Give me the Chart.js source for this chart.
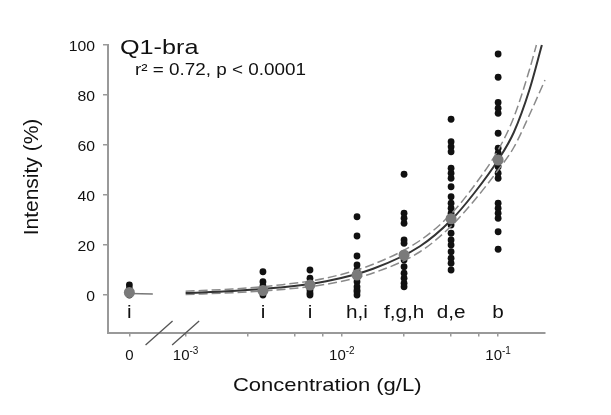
<!DOCTYPE html>
<html>
<head>
<meta charset="utf-8">
<script src="https://cdn.jsdelivr.net/npm/chart.js@4.4.1/dist/chart.umd.min.js"></script>
<style>
  html, body { margin: 0; padding: 0; background: #fff; }
  #wrap { width: 611px; height: 415px; }
</style>
</head>
<body>
<div id="wrap"><canvas id="chart"></canvas></div>
<script>
// groups: concentration (g/L), 0 sits left of the axis break
const concentrations = [0, 0.003125, 0.00625, 0.0125, 0.025, 0.05, 0.1]
const groupLetters = ['i', 'i', 'i', 'h,i', 'f,g,h', 'd,e', 'b']
const groupMeans = [1, 1.8, 4, 8, 16, 30.5, 54]
const dotsByGroup = [
  [4, 2.5, 1, 0],
  [9.3, 5.3, 3.6, 2, 1, 0],
  [10, 6.7, 5, 2, 0.8, 0],
  [31.3, 23.6, 15.6, 12, 10, 7, 5.3, 3.3, 2, 1.3, 0],
  [48.3, 32.7, 30.7, 28.7, 22, 20.7, 14, 11.3, 8.7, 6.7, 4.7, 3.3],
  [70.3, 61.3, 59.3, 57.3, 50.7, 48.7, 46.7, 43.3, 39.3, 36.7, 34.7, 32.7, 28, 24.7, 22, 20, 17.3, 14.7, 12.7, 10],
  [96.4, 87.1, 77, 74.7, 72.7, 64.7, 58.7, 56.7, 51.3, 48.7, 46.7, 36.7, 34.7, 32.7, 30.7, 25.3, 18.3]
]

const fitX = [-3.0, -2.7, -2.4, -2.1, -1.8, -1.5, -1.3, -1.15, -1.0, -0.9, -0.8, -0.72]
const fitY = [0.8, 1.6, 3.0, 5.5, 10.5, 19.5, 30, 41, 54, 65, 82, 100]
const bandUpX = [-3.0, -2.7, -2.4, -2.1, -1.8, -1.5, -1.3, -1.15, -1.0, -0.9, -0.8, -0.755]
const bandUpY = [1.5, 2.4, 4.0, 6.8, 12.3, 21.8, 32.5, 44, 58, 71, 90, 100]
const bandLoX = [-3.0, -2.7, -2.4, -2.1, -1.8, -1.5, -1.3, -1.15, -1.0, -0.9, -0.8, -0.7]
const bandLoY = [0.2, 0.9, 2.1, 4.3, 8.8, 17.3, 27.6, 38, 50, 59, 72, 86]
// little line at the zero group
const zeroLineX = [-3.36, -3.21]
const zeroLineY = [0.6, 0.4]

// axes
const ZERO_AT = -3.36          // where "0" is put on the log axis
const X_MIN = -3.5, X_MAX = -0.7
const Y_MIN = -15, Y_MAX = 100
const yTicks = [0, 20, 40, 60, 80, 100]
const xMajorTicks = [0, 0.001, 0.01, 0.1]
const xMajorLabels = ['0', '10', '10', '10']
const xMajorExps = ['', '-3', '-2', '-1']
const xMinorTicks = [0.0025, 0.005, 0.0075, 0.025, 0.05, 0.075]
const breakAt = [-3.17, -3.0]
const letterY = -9.3

const toX = c => c === 0 ? ZERO_AT : Math.log10(c)
const FONT = '"Liberation Sans", Arial, sans-serif'

const dots = []
dotsByGroup.forEach((vals, i) => vals.forEach(v => dots.push({ x: toX(concentrations[i]), y: v })))
const means = groupMeans.map((v, i) => ({ x: toX(concentrations[i]), y: v }))
const pairs = (xs, ys) => xs.map((x, i) => ({ x, y: ys[i] }))

function text(ctx, str, x, y, size, sx, align) {
  ctx.save()
  ctx.translate(x, y)
  ctx.scale(sx, 1)
  ctx.font = size + 'px ' + FONT
  ctx.textAlign = align || 'left'
  ctx.textBaseline = 'alphabetic'
  ctx.fillText(str, 0, 0)
  ctx.restore()
}

const labels = {
  id: 'labels',
  afterDraw(chart) {
    const { ctx, chartArea: a, scales: { x, y } } = chart
    ctx.save()
    ctx.fillStyle = '#111'

    // y tick labels
    yTicks.forEach(v => text(ctx, String(v), a.left - 12.5, y.getPixelForValue(v) + 5.5, 15, 1.05, 'right'))

    // x tick labels, with superscript exponents
    xMajorTicks.forEach((c, i) => {
      const px = x.getPixelForValue(toX(c))
      ctx.font = '15px ' + FONT
      const w1 = ctx.measureText(xMajorLabels[i]).width
      ctx.font = '10px ' + FONT
      const w2 = xMajorExps[i] ? ctx.measureText(xMajorExps[i]).width : 0
      const left = px - (w1 + w2) / 2
      text(ctx, xMajorLabels[i], left, a.bottom + 27.5, 15, 1, 'left')
      if (xMajorExps[i]) text(ctx, xMajorExps[i], left + w1, a.bottom + 21, 10, 1, 'left')
    })

    // group letters
    groupLetters.forEach((s, i) => {
      text(ctx, s, x.getPixelForValue(toX(concentrations[i])), y.getPixelForValue(letterY), 18, 1.15, 'center')
    })

    // panel text
    text(ctx, 'Q1-bra', a.left + 12.5, a.top + 9, 21, 1.2, 'left')
    text(ctx, 'r² = 0.72, p < 0.0001', a.left + 27.5, a.top + 30, 16, 1.18, 'left')

    // axis titles
    text(ctx, 'Concentration (g/L)', (a.left + a.right) / 2 + 1, 391, 19, 1.16, 'center')
    ctx.save()
    ctx.translate(32, 177)
    ctx.rotate(-Math.PI / 2)
    ctx.font = '21px ' + FONT
    ctx.textAlign = 'center'
    ctx.textBaseline = 'middle'
    ctx.fillText('Intensity (%)', 0, 0)
    ctx.restore()

    // axis break marks
    ctx.strokeStyle = '#555'
    ctx.lineWidth = 1.3
    breakAt.forEach(b => {
      const px = x.getPixelForValue(b)
      ctx.beginPath()
      ctx.moveTo(px - 13.5, a.bottom + 12.5)
      ctx.lineTo(px + 13.5, a.bottom - 11.5)
      ctx.stroke()
    })
    ctx.restore()
  }
}

new Chart(document.getElementById('chart'), {
  type: 'scatter',
  data: {
    datasets: [
      {
        label: 'means',
        data: means,
        order: 0,
        pointRadius: 5.5,
        pointBackgroundColor: '#7a7a7a',
        pointBorderWidth: 0,
        showLine: false
      },
      {
        label: 'fit',
        data: pairs(fitX, fitY),
        order: 1,
        showLine: true,
        pointRadius: 0,
        borderColor: '#333',
        borderWidth: 2,
        cubicInterpolationMode: 'monotone',
        clip: false
      },
      {
        label: 'upper',
        data: pairs(bandUpX, bandUpY),
        order: 2,
        showLine: true,
        pointRadius: 0,
        borderColor: '#8a8a8a',
        borderWidth: 1.5,
        borderDash: [9, 4],
        cubicInterpolationMode: 'monotone',
        clip: false
      },
      {
        label: 'lower',
        data: pairs(bandLoX, bandLoY),
        order: 2,
        showLine: true,
        pointRadius: 0,
        borderColor: '#8a8a8a',
        borderWidth: 1.5,
        borderDash: [9, 4],
        cubicInterpolationMode: 'monotone',
        clip: false
      },
      {
        label: 'zero',
        data: pairs(zeroLineX, zeroLineY),
        order: 2,
        showLine: true,
        pointRadius: 0,
        borderColor: '#777',
        borderWidth: 1.5
      },
      {
        label: 'dots',
        data: dots,
        order: 3,
        pointRadius: 3.4,
        pointBackgroundColor: '#111',
        pointBorderWidth: 0
      }
    ]
  },
  options: {
    responsive: true,
    maintainAspectRatio: false,
    animation: false,
    events: [],
    layout: { padding: { top: 45, right: 66, left: 0, bottom: 0 } },
    plugins: { legend: { display: false }, tooltip: { enabled: false } },
    scales: {
      x: {
        type: 'linear',
        min: X_MIN,
        max: X_MAX,
        afterBuildTicks: s => {
          s.ticks = xMajorTicks.concat(xMinorTicks).map(c => ({ value: toX(c) }))
        },
        afterFit: s => { s.height = 82.5 },
        ticks: { display: false, autoSkip: false },
        grid: { drawOnChartArea: false, drawTicks: true, tickLength: 4, color: '#999', lineWidth: 1.5 },
        border: { display: true, color: '#999', width: 2 }
      },
      y: {
        min: Y_MIN,
        max: Y_MAX,
        afterBuildTicks: s => { s.ticks = yTicks.map(v => ({ value: v })) },
        afterFit: s => { s.width = 107.5 },
        ticks: { display: false },
        grid: { drawOnChartArea: false, drawTicks: true, tickLength: 4.5, color: '#999', lineWidth: 1.5 },
        border: { display: true, color: '#999', width: 2 }
      }
    }
  },
  plugins: [labels]
})
</script>
</body>
</html>
